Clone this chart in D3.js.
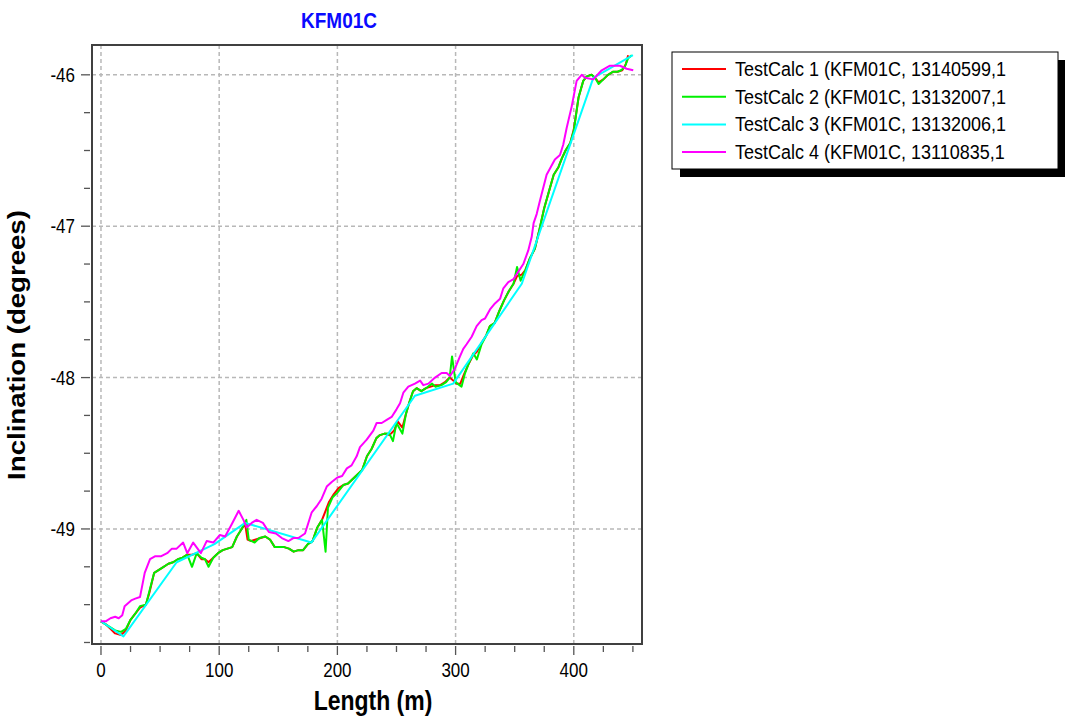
<!DOCTYPE html>
<html lang="en">
<head>
<meta charset="UTF-8">
<style>
  body { margin: 0; background: #fff; }
  svg text { font-family: "Liberation Sans", Arial, sans-serif; }
</style>
<script src="https://d3js.org/d3.v7.min.js"></script>
</head>
<body>
<svg id="chart" width="1065" height="724"></svg>
<script>
// chart values: [length (m), inclination (deg)]
const title = "KFM01C";
const xTitle = "Length (m)";
const yTitle = "Inclination (degrees)";
const seriesNames = [
  "TestCalc 1 (KFM01C, 13140599,1",
  "TestCalc 2 (KFM01C, 13132007,1",
  "TestCalc 3 (KFM01C, 13132006,1",
  "TestCalc 4 (KFM01C, 13110835,1"
];
const seriesColors = ["#ff0000", "#00f000", "#00ffff", "#ff00ff"];

const calc1 = [
  [0,-49.61],[4,-49.63],[8,-49.66],[12,-49.69],[17,-49.70],[21,-49.67],[25,-49.60],[29,-49.56],
  [33,-49.52],[38,-49.50],[41,-49.42],[45,-49.29],[49,-49.27],[53,-49.25],[57,-49.23],[61,-49.22],
  [65,-49.20],[69,-49.19],[73,-49.17],[77,-49.17],[81,-49.16],[85,-49.20],[88,-49.20],[91,-49.22],
  [95,-49.19],[99,-49.16],[103,-49.14],[107,-49.13],[111,-49.12],[115,-49.05],[119,-49.00],[122,-48.97],
  [124,-49.07],[127,-49.08],[131,-49.07],[135,-49.06],[139,-49.05],[143,-49.07],[147,-49.12],[151,-49.12],
  [155,-49.12],[159,-49.13],[163,-49.15],[167,-49.14],[171,-49.14],[175,-49.10],[179,-49.08],[183,-48.99],
  [187,-48.94],[190,-48.88],[193,-48.82],[197,-48.77],[201,-48.73],[205,-48.71],[209,-48.70],[213,-48.67],
  [217,-48.64],[221,-48.61],[225,-48.52],[229,-48.47],[233,-48.40],[236,-48.38],[240,-48.37],[244,-48.38],
  [248,-48.35],[251,-48.29],[255,-48.33],[258,-48.24],[261,-48.16],[264,-48.09],[267,-48.07],[271,-48.09],
  [275,-48.07],[279,-48.06],[283,-48.05],[287,-48.05],[291,-48.03],[295,-48.00],[298,-48.02],[301,-48.04],
  [304,-48.04],[307,-47.98],[311,-47.91],[315,-47.85],[318,-47.83],[322,-47.77],[326,-47.72],[329,-47.66],
  [333,-47.64],[337,-47.56],[341,-47.49],[345,-47.43],[349,-47.38],[352,-47.33],[356,-47.32],[359,-47.29],
  [363,-47.21],[367,-47.15],[371,-47.02],[375,-46.88],[379,-46.77],[383,-46.66],[387,-46.61],[390,-46.55],
  [393,-46.50],[397,-46.45],[400,-46.36],[404,-46.15],[408,-46.04],[411,-46.01],[415,-46.00],[418,-46.02],
  [421,-46.05],[425,-46.03],[429,-46.00],[433,-45.98],[437,-45.98],[441,-45.97],[444,-45.93],[446,-45.87]
];

const calc2 = [
  [0,-49.61],[4,-49.63],[8,-49.65],[12,-49.67],[17,-49.68],[21,-49.66],[25,-49.60],[29,-49.56],
  [33,-49.51],[38,-49.50],[41,-49.41],[45,-49.29],[49,-49.27],[53,-49.25],[57,-49.23],[61,-49.22],
  [65,-49.20],[69,-49.19],[73,-49.17],[77,-49.25],[81,-49.16],[85,-49.19],[88,-49.20],[91,-49.25],
  [95,-49.19],[99,-49.16],[103,-49.14],[107,-49.13],[111,-49.12],[115,-49.05],[119,-49.00],[123,-48.94],
  [125,-49.07],[130,-49.09],[134,-49.06],[139,-49.05],[143,-49.07],[147,-49.12],[151,-49.12],[155,-49.12],
  [159,-49.13],[163,-49.15],[167,-49.14],[171,-49.14],[175,-49.10],[179,-49.08],[183,-48.99],[187,-48.94],
  [190,-49.15],[192,-48.86],[196,-48.79],[200,-48.76],[205,-48.71],[209,-48.70],[213,-48.67],[217,-48.64],
  [221,-48.61],[225,-48.52],[229,-48.47],[233,-48.40],[236,-48.38],[240,-48.37],[244,-48.37],[247,-48.42],
  [250,-48.30],[255,-48.37],[258,-48.24],[261,-48.16],[264,-48.09],[267,-48.07],[271,-48.09],[275,-48.07],
  [280,-48.04],[283,-48.06],[288,-48.05],[292,-48.03],[295,-48.00],[297,-47.86],[300,-48.03],[305,-48.06],
  [308,-47.97],[311,-47.91],[315,-47.84],[318,-47.88],[322,-47.78],[326,-47.72],[329,-47.66],[333,-47.64],
  [337,-47.56],[341,-47.49],[345,-47.43],[349,-47.38],[352,-47.27],[355,-47.36],[359,-47.29],[363,-47.21],
  [367,-47.15],[371,-47.02],[375,-46.88],[379,-46.77],[383,-46.66],[387,-46.61],[390,-46.55],[393,-46.50],
  [397,-46.45],[400,-46.37],[404,-46.15],[408,-46.04],[411,-46.01],[415,-46.00],[418,-46.02],[421,-46.06],
  [425,-46.03],[429,-46.00],[433,-45.98],[437,-45.98],[440,-45.97],[443,-45.95],[446,-45.89],[449,-45.87]
];

const calc3 = [
  [0,-49.61],[19,-49.71],[64,-49.22],[96,-49.10],[122,-48.96],[178,-49.09],[265.6,-48.12],
  [298,-48.04],[356,-47.38],[416.5,-46.02],[450,-45.87]
];

const calc4 = [
  [0,-49.61],[4,-49.61],[8,-49.59],[12,-49.58],[15,-49.59],[18,-49.57],[20,-49.51],[26,-49.47],
  [29,-49.46],[33,-49.45],[37,-49.29],[41.5,-49.20],[46,-49.18],[51,-49.18],[56,-49.16],[60,-49.13],
  [64,-49.13],[69.5,-49.09],[73,-49.16],[78,-49.09],[84.5,-49.16],[89.4,-49.08],[95,-49.09],[100.6,-49.04],
  [105,-49.05],[110.5,-48.97],[116.5,-48.88],[120.5,-48.94],[123.3,-48.99],[127.5,-48.96],[131.7,-48.94],
  [137,-48.96],[142,-49.02],[148,-49.03],[153,-49.06],[158.5,-49.08],[162.7,-49.06],[167,-49.06],
  [172.6,-49.03],[178.3,-48.89],[182.5,-48.85],[186.7,-48.80],[191,-48.72],[195.2,-48.69],[200,-48.66],
  [204,-48.65],[208,-48.60],[212,-48.58],[216.3,-48.52],[219.1,-48.46],[224.8,-48.41],[230.4,-48.35],
  [233.2,-48.30],[237.5,-48.30],[241.7,-48.28],[245.9,-48.26],[250,-48.21],[253,-48.17],[255.8,-48.10],
  [260,-48.06],[265.6,-48.04],[270,-48.02],[272.7,-48.05],[277,-48.04],[282.6,-48.00],[288.2,-47.97],
  [292.4,-47.97],[295.3,-47.99],[299.5,-47.94],[303.7,-47.86],[306.5,-47.81],[309.3,-47.78],[313.6,-47.73],
  [317.8,-47.66],[322,-47.62],[324.9,-47.61],[329.1,-47.55],[333.3,-47.51],[337.6,-47.48],[340.4,-47.41],
  [344.6,-47.37],[348.9,-47.35],[353.1,-47.30],[357.3,-47.25],[361.5,-47.16],[364.4,-47.07],[366,-46.98],
  [368.6,-46.92],[371.4,-46.83],[377,-46.66],[384,-46.56],[388.3,-46.53],[391.1,-46.46],[394,-46.35],
  [398.2,-46.21],[402.4,-46.04],[406.7,-46.00],[409.5,-46.02],[416.5,-46.03],[423.6,-45.97],[430.6,-45.94],
  [439.1,-45.94],[444.7,-45.96],[450.3,-45.97]
];

const xMajorTicks = [0, 100, 200, 300, 400];
const xMinorTicks = d3.range(0, 451, 25);
const yMajorTicks = [-46, -47, -48, -49];
const yMinorTicks = d3.range(-46, -49.8, -0.25);

const allSeries = [calc1, calc2, calc3, calc4];

// plot box
const plotL = 92, plotR = 642, plotT = 45, plotB = 644;
// text in the original looks a bit taller than wide
const stretch = 1.2;
const svg = d3.select("#chart");

const x = d3.scaleLinear().domain([-7.6, 457.7]).range([plotL, plotR]);
const y = d3.scaleLinear().domain([-45.803, -49.76]).range([plotT, plotB]);

// grid
svg.append("g").selectAll("line").data(xMajorTicks).join("line")
  .attr("x1", d => x(d)).attr("x2", d => x(d))
  .attr("y1", plotT).attr("y2", plotB)
  .attr("stroke", "#b8b8b8").attr("stroke-width", 1.5).attr("stroke-dasharray", "4,3");
svg.append("g").selectAll("line").data(yMajorTicks).join("line")
  .attr("x1", plotL).attr("x2", plotR)
  .attr("y1", d => y(d)).attr("y2", d => y(d))
  .attr("stroke", "#b8b8b8").attr("stroke-width", 1.5).attr("stroke-dasharray", "4,3");

// ticks drawn outside the frame
const xg = svg.append("g").attr("transform", `translate(0,${plotB + 1})`);
xg.selectAll("line").data(xMinorTicks).join("line")
  .attr("x1", d => x(d)).attr("x2", d => x(d))
  .attr("y1", 1).attr("y2", d => xMajorTicks.includes(d) ? 10 : 7)
  .attr("stroke", "#555").attr("stroke-width", 1.3);
xg.selectAll("text").data(xMajorTicks).join("text")
  .attr("transform", d => `translate(${x(d)},32) scale(1,${stretch})`)
  .attr("text-anchor", "middle").attr("font-size", 17).attr("fill", "#000")
  .text(d => d);

const yg = svg.append("g").attr("transform", `translate(${plotL - 1},0)`);
yg.selectAll("line").data(yMinorTicks).join("line")
  .attr("y1", d => y(d)).attr("y2", d => y(d))
  .attr("x1", -1).attr("x2", d => yMajorTicks.some(m => Math.abs(m - d) < 1e-6) ? -10 : -7)
  .attr("stroke", "#555").attr("stroke-width", 1.3);
yg.selectAll("text").data(yMajorTicks).join("text")
  .attr("transform", d => `translate(-16,${y(d)}) scale(1,${stretch})`)
  .attr("dy", "0.35em")
  .attr("text-anchor", "end").attr("font-size", 17).attr("fill", "#000")
  .text(d => d);

// series
const line = d3.line().x(d => x(d[0])).y(d => y(d[1]));
svg.append("g").selectAll("path").data(allSeries).join("path")
  .attr("d", line)
  .attr("fill", "none")
  .attr("stroke", (d, i) => seriesColors[i])
  .attr("stroke-width", 2)
  .attr("stroke-linejoin", "round");

// frame
svg.append("rect")
  .attr("x", plotL).attr("y", plotT)
  .attr("width", plotR - plotL).attr("height", plotB - plotT)
  .attr("fill", "none").attr("stroke", "#404040").attr("stroke-width", 2);

// titles
svg.append("text")
  .attr("transform", `translate(339,28) scale(1,${stretch})`)
  .attr("text-anchor", "middle").attr("font-size", 19).attr("font-weight", "bold")
  .attr("fill", "#0a0aff").text(title);

svg.append("text")
  .attr("transform", `translate(373,710) scale(1,${stretch})`)
  .attr("text-anchor", "middle").attr("font-size", 23).attr("font-weight", "bold")
  .text(xTitle);

svg.append("text")
  .attr("transform", `translate(25,345) scale(1,${stretch}) rotate(-90)`)
  .attr("text-anchor", "middle").attr("font-size", 23).attr("font-weight", "bold")
  .text(yTitle);

// legend with drop shadow
const lg = svg.append("g").attr("transform", "translate(672,52)");
lg.append("rect").attr("x", 8).attr("y", 8).attr("width", 386).attr("height", 117).attr("fill", "#000");
lg.append("rect").attr("x", 0).attr("y", 0).attr("width", 386).attr("height", 117)
  .attr("fill", "#fff").attr("stroke", "#000").attr("stroke-width", 1);
const items = lg.selectAll("g.item").data(seriesNames).join("g")
  .attr("class", "item")
  .attr("transform", (d, i) => `translate(0,${17 + i * 27.7})`);
items.append("line")
  .attr("x1", 10).attr("x2", 54).attr("y1", 0).attr("y2", 0)
  .attr("stroke", (d, i) => seriesColors[i]).attr("stroke-width", 2);
items.append("text")
  .attr("transform", `translate(63,0) scale(1,1.12)`)
  .attr("dy", "0.35em")
  .attr("font-size", 18).attr("fill", "#000")
  .text(d => d);
</script>
</body>
</html>
